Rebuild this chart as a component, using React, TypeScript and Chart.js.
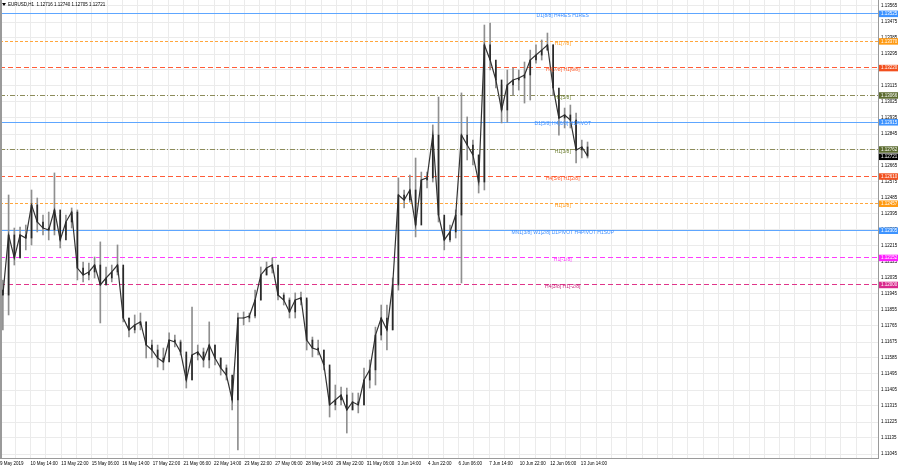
import React, { useEffect, useRef } from 'react';
import { Chart, registerables } from 'chart.js';

Chart.register(...registerables);

// ---- data (hourly EURUSD bars, sampled every BAR_STEP hours) ----
const BAR_STEP = 6;
const highs = [
  1.12024, 1.12502, 1.12316, 1.12322, 1.12333, 1.12530, 1.12485, 1.12389, 1.12406, 1.12626,
  1.12389, 1.12389, 1.12429, 1.12418, 1.12125, 1.12119, 1.12153, 1.12238, 1.12097, 1.12108,
  1.12221, 1.12091, 1.11810, 1.11827, 1.11838, 1.11788, 1.11686, 1.11658, 1.11641, 1.11726,
  1.11714, 1.11686, 1.11602, 1.11872, 1.11658, 1.11641, 1.11788, 1.11658, 1.11585, 1.11546,
  1.11461, 1.11838, 1.11844, 1.11838, 1.11967, 1.12097, 1.12125, 1.12148, 1.12091, 1.11951,
  1.11923, 1.11951, 1.11956, 1.11911, 1.11703, 1.11686, 1.11630, 1.11518, 1.11433, 1.11422,
  1.11416, 1.11388, 1.11388, 1.11529, 1.11574, 1.11759, 1.11883, 1.11883, 1.12035, 1.12598,
  1.12530, 1.12614, 1.12710, 1.12631, 1.12631, 1.12896, 1.13053, 1.12373, 1.12333, 1.12418,
  1.13076, 1.12941, 1.12811, 1.12727, 1.13458, 1.13469, 1.13233, 1.13121, 1.13205, 1.13216,
  1.13205, 1.13250, 1.13317, 1.13346, 1.13374, 1.13413, 1.13346, 1.13064, 1.12991, 1.13008,
  1.12963, 1.12811, 1.12800,
];
const lows = [
  1.11743, 1.11827, 1.12108, 1.12148, 1.12193, 1.12221, 1.12294, 1.12277, 1.12249, 1.12277,
  1.12204, 1.12277, 1.12316, 1.12024, 1.12013, 1.12024, 1.12035, 1.11782, 1.11996, 1.12013,
  1.12052, 1.11788, 1.11703, 1.11726, 1.11743, 1.11585, 1.11585, 1.11534, 1.11518, 1.11641,
  1.11647, 1.11602, 1.11416, 1.11461, 1.11574, 1.11534, 1.11529, 1.11546, 1.11489, 1.11461,
  1.11293, 1.11068, 1.11771, 1.11788, 1.11810, 1.11911, 1.12052, 1.12063, 1.11911, 1.11883,
  1.11810, 1.11810, 1.11883, 1.11630, 1.11591, 1.11602, 1.11518, 1.11253, 1.11293, 1.11321,
  1.11163, 1.11293, 1.11276, 1.11321, 1.11416, 1.11433, 1.11686, 1.11630, 1.11743, 1.11967,
  1.12429, 1.12462, 1.12266, 1.12474, 1.12541, 1.12575, 1.12350, 1.12193, 1.12238, 1.12260,
  1.12007, 1.12699, 1.12671, 1.12513, 1.12530, 1.13205, 1.13104, 1.12907, 1.12912, 1.13064,
  1.13092, 1.13019, 1.13036, 1.13244, 1.13261, 1.13317, 1.13064, 1.12839, 1.12879, 1.12879,
  1.12682, 1.12710, 1.12710,
];
const closes = [
  1.11939, 1.12277, 1.12148, 1.12277, 1.12260, 1.12446, 1.12350, 1.12316, 1.12305, 1.12418,
  1.12249, 1.12350, 1.12406, 1.12091, 1.12052, 1.12069, 1.12108, 1.11996, 1.12035, 1.12069,
  1.12108, 1.11810, 1.11743, 1.11771, 1.11788, 1.11658, 1.11630, 1.11585, 1.11563, 1.11686,
  1.11675, 1.11619, 1.11461, 1.11602, 1.11619, 1.11574, 1.11658, 1.11585, 1.11529, 1.11489,
  1.11349, 1.11810, 1.11810, 1.11821, 1.11911, 1.12052, 1.12091, 1.12108, 1.11939, 1.11911,
  1.11844, 1.11911, 1.11923, 1.11686, 1.11641, 1.11630, 1.11546, 1.11321, 1.11349, 1.11377,
  1.11293, 1.11338, 1.11321, 1.11461, 1.11518, 1.11714, 1.11810, 1.11743, 1.11996, 1.12502,
  1.12474, 1.12530, 1.12333, 1.12586, 1.12598, 1.12839, 1.12389, 1.12249, 1.12294, 1.12389,
  1.12839, 1.12783, 1.12727, 1.12575, 1.13346, 1.13261, 1.13149, 1.12980, 1.13121, 1.13149,
  1.13160, 1.13177, 1.13261, 1.13289, 1.13317, 1.13346, 1.13104, 1.12935, 1.12952, 1.12924,
  1.12755, 1.12772, 1.12721,
];
const firstOpen = 1.11967;

const timeLabels = [
  '9 May 2019', '10 May 14:00', '13 May 22:00', '15 May 06:00', '16 May 14:00',
  '17 May 22:00', '21 May 06:00', '22 May 14:00', '23 May 22:00', '27 May 06:00',
  '28 May 14:00', '29 May 22:00', '31 May 06:00', '3 Jun 14:00', '4 Jun 22:00',
  '6 Jun 06:00', '7 Jun 14:00', '10 Jun 22:00', '12 Jun 06:00', '13 Jun 14:00',
];
const LABEL_EVERY = 32;
const GRID_EVERY = 16;

const priceTicks = [
  1.13565, 1.13475, 1.13385, 1.13295, 1.13205, 1.13115, 1.13025, 1.12935, 1.12845, 1.12755,
  1.12665, 1.12575, 1.12485, 1.12395, 1.12305, 1.12215, 1.12125, 1.12035, 1.11945, 1.11855,
  1.11765, 1.11675, 1.11585, 1.11495, 1.11405, 1.11315, 1.11225, 1.11135, 1.11045,
];

const levelValues = [
  1.13525, 1.13370, 1.13220, 1.13066, 1.12915, 1.12762, 1.12610, 1.12457, 1.12305, 1.12152, 1.12000,
];
const levelNames = [
  'D1[8/8] H4RES H1RES', 'H1[7/8]', 'H4[7/8] H1[6/8]', 'H1[5/8]', 'D1[5/8] H4[6/8] H1PIVOT',
  'H1[3/8]', 'H4[5/8] H1[2/8]', 'H1[1/8]', 'MN1[3/8] W1[2/8] D1PIVOT H4PIVOT H1SUP',
  'H1[-1/8]', 'H4[3/8] H1[-2/8]',
];
const levelKinds = [
  'blue', 'orange', 'red', 'olive', 'blue', 'olive', 'red', 'orange', 'blue', 'magenta', 'violet',
];
const titleText = 'EURUSD,H1  1.12716 1.12740 1.12705 1.12721';

// ---- styling ----
const kindStyles: Record<string, { line: string; text: string; box: string; dash: number[] }> = {
  blue: { line: '#5ea6ff', text: '#3f8fff', box: '#3d93ff', dash: [] },
  orange: { line: '#ffa63d', text: '#ff9a1a', box: '#ff9a12', dash: [3, 2] },
  red: { line: '#ff5c38', text: '#ff5a2a', box: '#f2501e', dash: [5, 3] },
  olive: { line: '#8c8c5a', text: '#6b7d2e', box: '#5b6b2f', dash: [5, 2, 1, 2] },
  magenta: { line: '#ff3cff', text: '#ff30ff', box: '#ff1eff', dash: [5, 3] },
  violet: { line: '#e0358a', text: '#c8247a', box: '#d9288c', dash: [5, 3] },
};
const FONT = '"Liberation Sans", Arial, sans-serif';
const GRID = '#ebebeb';
const X_MAX = 919;
const Y_MIN = 1.110225;
const Y_MAX = 1.1359875;
const LEVEL_TEXT_BAR = 589;

const overlayPlugin = {
  id: 'mt4overlay',
  beforeDatasetsDraw(chart: any) {
    const { ctx, chartArea, scales } = chart;
    const ys = scales.y;
    ctx.save();
    ctx.lineWidth = 1;
    levelValues.forEach((v, i) => {
      const st = kindStyles[levelKinds[i]];
      const y = Math.round(ys.getPixelForValue(v)) + 0.5;
      ctx.strokeStyle = st.line;
      ctx.setLineDash(st.dash);
      ctx.beginPath();
      ctx.moveTo(chartArea.left, y);
      ctx.lineTo(chartArea.right, y);
      ctx.stroke();
    });
    ctx.restore();
  },
  afterDatasetsDraw(chart: any) {
    const { ctx, scales } = chart;
    const xs = scales.x, ys = scales.y;
    ctx.save();
    ctx.font = `5px ${FONT}`;
    ctx.textAlign = 'center';
    ctx.textBaseline = 'middle';
    levelValues.forEach((v, i) => {
      ctx.fillStyle = kindStyles[levelKinds[i]].text;
      ctx.fillText(levelNames[i], xs.getPixelForValue(LEVEL_TEXT_BAR), ys.getPixelForValue(v) + 2.5);
    });
    ctx.restore();
  },
  afterDraw(chart: any) {
    const { ctx, chartArea, scales } = chart;
    const ys = scales.y;
    ctx.save();
    // frame
    ctx.strokeStyle = '#9a9a9a';
    ctx.lineWidth = 1;
    ctx.beginPath();
    ctx.moveTo(0.5, 0);
    ctx.lineTo(0.5, chartArea.bottom);
    ctx.moveTo(1.5, 0);
    ctx.lineTo(1.5, chartArea.bottom);
    ctx.moveTo(0, chartArea.bottom + 0.5);
    ctx.lineTo(chartArea.right, chartArea.bottom + 0.5);
    ctx.moveTo(chartArea.right + 0.5, 0);
    ctx.lineTo(chartArea.right + 0.5, chartArea.bottom + 1);
    ctx.stroke();
    // price boxes
    ctx.font = `4.5px ${FONT}`;
    ctx.textAlign = 'left';
    ctx.textBaseline = 'middle';
    const box = (v: number, color: string) => {
      const y = ys.getPixelForValue(v);
      ctx.fillStyle = color;
      ctx.fillRect(chartArea.right + 1, y - 2.5, 19, 6.5);
      ctx.fillStyle = '#ffffff';
      ctx.fillText(v.toFixed(5), chartArea.right + 3, y + 0.8);
    };
    levelValues.forEach((v, i) => box(v, kindStyles[levelKinds[i]].box));
    box(closes[closes.length - 1], '#000000');
    // title
    ctx.fillStyle = '#000';
    ctx.beginPath();
    ctx.moveTo(2, 3);
    ctx.lineTo(6, 3);
    ctx.lineTo(4, 6);
    ctx.closePath();
    ctx.fill();
    ctx.font = `4.5px ${FONT}`;
    ctx.fillText(titleText, 8, 4.5);
    ctx.restore();
  },
};

export default function App() {
  const ref = useRef<HTMLCanvasElement | null>(null);
  useEffect(() => {
    if (!ref.current) return;
    const centers = closes.map((_, i) => i * BAR_STEP + BAR_STEP / 2);
    const opens = closes.map((_, i) => (i === 0 ? firstOpen : closes[i - 1]));
    const chart = new Chart(ref.current, {
      type: 'bar',
      data: {
        datasets: [
          {
            type: 'bar',
            data: centers.map((x, i) => ({ x, y: [lows[i], highs[i]] })),
            backgroundColor: '#8f8f8f',
            barThickness: 1,
            grouped: false,
            order: 3,
          } as any,
          {
            type: 'line',
            data: centers.map((x, i) => ({ x, y: closes[i] })),
            borderColor: '#333333',
            borderWidth: 1.2,
            pointRadius: 0,
            tension: 0,
            order: 2,
          } as any,
          {
            type: 'bar',
            data: centers.map((x, i) => ({ x, y: [opens[i], closes[i]] })),
            backgroundColor: '#2a2a2a',
            barThickness: 1,
            grouped: false,
            order: 1,
          } as any,
        ],
      },
      options: {
        animation: false,
        responsive: false,
        devicePixelRatio: 1,
        events: [],
        layout: { padding: 0 },
        plugins: { legend: { display: false }, tooltip: { enabled: false }, title: { display: false } },
        scales: {
          x: {
            type: 'linear',
            min: 0,
            max: X_MAX,
            offset: false,
            afterBuildTicks: (s: any) => {
              const t = [];
              for (let b = 0; b <= X_MAX; b += GRID_EVERY) t.push({ value: b });
              s.ticks = t;
            },
            afterFit: (s: any) => {
              s.height = 12;
              s.paddingLeft = 0;
              s.paddingRight = 0;
            },
            ticks: {
              autoSkip: false,
              maxRotation: 0,
              minRotation: 0,
              align: 'start',
              padding: 3,
              color: '#000',
              font: { size: 4.5, family: FONT },
              callback: (v: any) => {
                const n = Number(v);
                const k = n / LABEL_EVERY;
                return n % LABEL_EVERY === 0 && k < timeLabels.length ? timeLabels[k] : '';
              },
            },
            grid: { color: GRID, drawTicks: false, offset: false },
            border: { display: false },
          },
          y: {
            position: 'right',
            min: Y_MIN,
            max: Y_MAX,
            beginAtZero: false,
            afterBuildTicks: (s: any) => {
              s.ticks = priceTicks.map((v) => ({ value: v }));
            },
            afterFit: (s: any) => {
              s.width = 22;
              s.paddingTop = 0;
              s.paddingBottom = 0;
            },
            ticks: {
              autoSkip: false,
              padding: 3,
              color: '#000',
              font: { size: 4.5, family: FONT },
              callback: (v: any) => Number(v).toFixed(5),
            },
            grid: { color: GRID, drawTicks: false },
            border: { display: false },
          },
        },
      } as any,
      plugins: [overlayPlugin],
    });
    return () => chart.destroy();
  }, []);
  return (
    <div style={{ position: 'absolute', left: 0, top: 0, width: 900, height: 470, background: '#fff' }}>
      <canvas ref={ref} width={900} height={470} style={{ display: 'block' }} />
    </div>
  );
}
